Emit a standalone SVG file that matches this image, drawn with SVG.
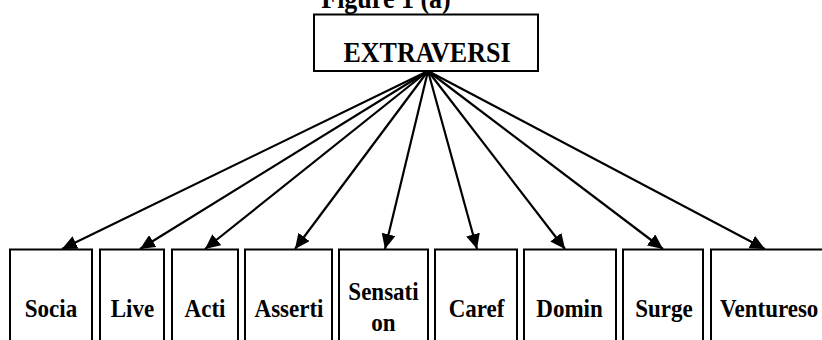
<svg xmlns="http://www.w3.org/2000/svg" width="822" height="340" viewBox="0 0 822 340">
<defs>
<marker id="ah" markerUnits="userSpaceOnUse" markerWidth="16" markerHeight="14" refX="15" refY="7" orient="auto">
<path d="M0,0 L15,7 L0,14 z" fill="#000"/>
</marker>
</defs>
<rect width="822" height="340" fill="#fff"/>
<text transform="matrix(1,0,0,1.13,386,8)" font-family="Liberation Serif" font-weight="bold" font-size="26" text-anchor="middle">Figure 1 (a)</text>
<g id="extraversi">
<rect x="314" y="14.5" width="224" height="56.5" fill="#fff" stroke="#000" stroke-width="2"/>
<text transform="matrix(1,0,0,1.13,427,62)" font-family="Liberation Serif" font-weight="bold" font-size="26" text-anchor="middle">EXTRAVERSI</text>
</g>
<g id="connectors" stroke="#000" stroke-width="2.2" fill="none" marker-end="url(#ah)">
<line x1="428" y1="71" x2="62" y2="249"/>
<line x1="428" y1="71" x2="140" y2="249"/>
<line x1="428" y1="71" x2="205" y2="249"/>
<line x1="428" y1="71" x2="295" y2="249"/>
<line x1="428" y1="71" x2="385" y2="249"/>
<line x1="428" y1="71" x2="477" y2="249"/>
<line x1="428" y1="71" x2="565" y2="249"/>
<line x1="428" y1="71" x2="663" y2="249"/>
<line x1="428" y1="71" x2="765" y2="249"/>
</g>
<g id="socia">
<rect x="10" y="249.5" width="82" height="100" fill="#fff" stroke="#000" stroke-width="2"/>
<text transform="matrix(1,0,0,1.13,51,316.5)" font-family="Liberation Serif" font-weight="bold" font-size="23" text-anchor="middle">Socia</text>
</g>
<g id="live">
<rect x="100" y="249.5" width="64" height="100" fill="#fff" stroke="#000" stroke-width="2"/>
<text transform="matrix(1,0,0,1.13,132.5,316.5)" font-family="Liberation Serif" font-weight="bold" font-size="23" text-anchor="middle">Live</text>
</g>
<g id="acti">
<rect x="172" y="249.5" width="66" height="100" fill="#fff" stroke="#000" stroke-width="2"/>
<text transform="matrix(1,0,0,1.13,205,316.5)" font-family="Liberation Serif" font-weight="bold" font-size="23" text-anchor="middle">Acti</text>
</g>
<g id="asserti">
<rect x="245" y="249.5" width="87" height="100" fill="#fff" stroke="#000" stroke-width="2"/>
<text transform="matrix(1,0,0,1.13,289,316.5)" font-family="Liberation Serif" font-weight="bold" font-size="23" text-anchor="middle">Asserti</text>
</g>
<g id="sensation">
<rect x="339" y="249.5" width="89" height="100" fill="#fff" stroke="#000" stroke-width="2"/>
<text transform="matrix(1,0,0,1.13,383.5,300)" font-family="Liberation Serif" font-weight="bold" font-size="23" text-anchor="middle">Sensati</text>
<text transform="matrix(1,0,0,1.13,383.5,331)" font-family="Liberation Serif" font-weight="bold" font-size="23" text-anchor="middle">on</text>
</g>
<g id="caref">
<rect x="435" y="249.5" width="82" height="100" fill="#fff" stroke="#000" stroke-width="2"/>
<text transform="matrix(1,0,0,1.13,476.5,316.5)" font-family="Liberation Serif" font-weight="bold" font-size="23" text-anchor="middle">Caref</text>
</g>
<g id="domin">
<rect x="524" y="249.5" width="92" height="100" fill="#fff" stroke="#000" stroke-width="2"/>
<text transform="matrix(1,0,0,1.13,569.5,316.5)" font-family="Liberation Serif" font-weight="bold" font-size="23" text-anchor="middle">Domin</text>
</g>
<g id="surge">
<rect x="623" y="249.5" width="80" height="100" fill="#fff" stroke="#000" stroke-width="2"/>
<text transform="matrix(1,0,0,1.13,664,316.5)" font-family="Liberation Serif" font-weight="bold" font-size="23" text-anchor="middle">Surge</text>
</g>
<g id="ventureso">
<rect x="711" y="249.5" width="130" height="100" fill="#fff" stroke="#000" stroke-width="2"/>
<text transform="matrix(1,0,0,1.13,720,316.5)" font-family="Liberation Serif" font-weight="bold" font-size="23">Ventureso</text>
</g>
</svg>
